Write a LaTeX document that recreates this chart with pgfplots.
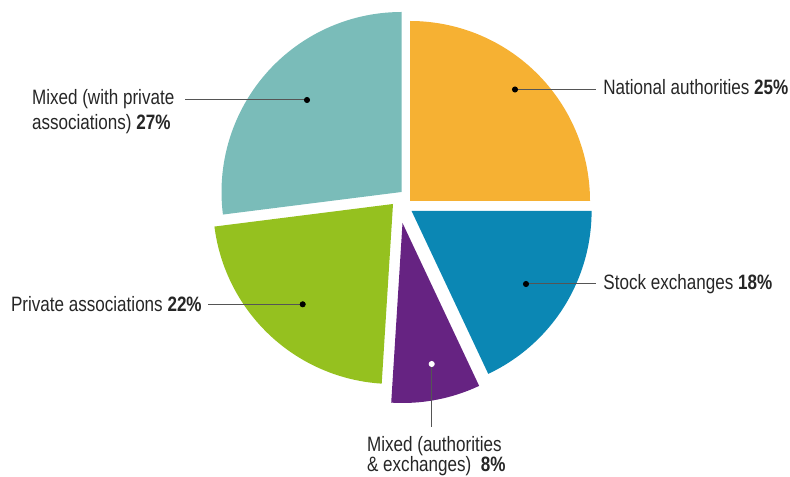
\documentclass[border=0pt]{standalone}
\usepackage{pgfplots}
\pgfplotsset{compat=1.18}
\usepackage{pgfplotstable}
\usepackage{fontspec}
\setmainfont{Liberation Sans}[FakeStretch=0.82]
\definecolor{cOrange}{HTML}{F6B133}
\definecolor{cBlue}{HTML}{0B87B4}
\definecolor{cPurple}{HTML}{662382}
\definecolor{cGreen}{HTML}{95C11F}
\definecolor{cTeal}{HTML}{7ABCB9}
\definecolor{cLine}{HTML}{555555}
% shares (percent): National 25, Stock 18, Mixed(auth) 8, Private 22, Mixed(private) 27
% angle span = 3.6 * share, clockwise from 90 deg
\begin{document}
\begin{tikzpicture}
\begin{axis}[name=ax, width=395pt, height=238pt, scale only axis,
  xmin=0, xmax=790, ymin=0, ymax=476, hide axis, clip=false]
% slices: corner (x,y), radius 180
\addplot[draw=none, fill=cOrange, domain=0:90, samples=60]
  ({410+180*cos(x)}, {275+180*sin(x)}) -- (axis cs:410,275) -- cycle;
\addplot[draw=none, fill=cBlue, domain=-64.8:0, samples=50]
  ({411.6+180*cos(x)}, {265+180*sin(x)}) -- (axis cs:411.6,265) -- cycle;
\addplot[draw=none, fill=cPurple, domain=-93.6:-64.8, samples=30]
  ({402.5+180*cos(x)}, {253+180*sin(x)}) -- (axis cs:402.5,253) -- cycle;
\addplot[draw=none, fill=cGreen, domain=-172.8:-93.6, samples=60]
  ({393+180*cos(x)}, {272+180*sin(x)}) -- (axis cs:393,272) -- cycle;
\addplot[draw=none, fill=cTeal, domain=90:187.2, samples=60]
  ({401.5+180*cos(x)}, {284+180*sin(x)}) -- (axis cs:401.5,284) -- cycle;
% leader lines
\addplot[cLine, line width=0.5pt] coordinates {(515,386.5) (596,386.5)};
\addplot[cLine, line width=0.5pt] coordinates {(185,376) (307,376)};
\addplot[cLine, line width=0.5pt] coordinates {(526,192) (596,192)};
\addplot[cLine, line width=0.5pt] coordinates {(208,171.7) (302.7,171.7)};
\addplot[cLine, line width=0.5pt] coordinates {(431.7,112) (431.7,49)};
% dots
\addplot[only marks, mark=*, mark size=1.3pt, black] coordinates {(515,386.5) (307,376) (526,192) (302.7,171.7)};
\addplot[only marks, mark=*, mark size=1.3pt, white] coordinates {(431.7,112)};
% labels
\begin{scope}[every node/.style={inner sep=0pt, anchor=base west, font=\fontsize{10.4}{12}\selectfont, text=black!85}]
\node at (axis cs:603,381) {National authorities \textbf{25\%}};
\node at (axis cs:603,186.7) {Stock exchanges \textbf{18\%}};
\node at (axis cs:10.7,164.3) {Private associations \textbf{22\%}};
\node at (axis cs:31.7,371) {Mixed (with private};
\node at (axis cs:31.7,346.7) {associations) \textbf{27\%}};
\node at (axis cs:366.7,24.3) {Mixed (authorities};
\node at (axis cs:366.7,5) {\&\ exchanges)\ \ \textbf{8\%}};
\end{scope}
\end{axis}
\pgfresetboundingbox
\useasboundingbox (ax.south west) rectangle (ax.north east);
\end{tikzpicture}
\end{document}
